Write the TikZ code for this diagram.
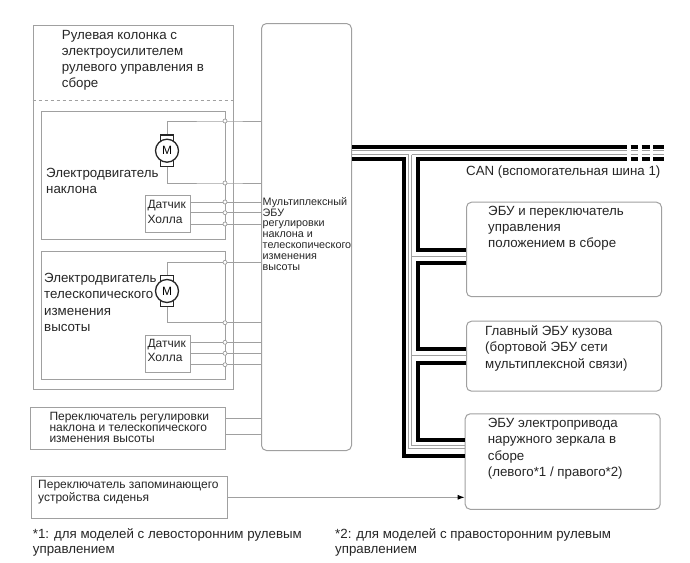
\documentclass[tikz,border=0pt]{standalone}
\usepackage{fontspec}
\setmainfont{Liberation Sans}
\usepackage{xcolor}
\usetikzlibrary{arrows.meta}
\definecolor{boxgray}{HTML}{A0A0A0}
\definecolor{txtgray}{HTML}{262626}
\tikzset{
  boxnode/.style={draw=boxgray, line width=1pt, inner sep=0pt, anchor=north west},
  ecunode/.style={boxnode, rounded corners=5pt},
  wire/.style={draw=boxgray, line width=1pt},
  busthick/.style={draw=black, line width=3.8pt},
  busthin/.style={draw=boxgray, line width=1pt},
  joint/.style={circle, draw=boxgray, fill=white, line width=0.7pt, inner sep=0pt, minimum size=4pt},
  motornode/.style={circle, draw=black!85, fill=white, line width=1.3pt, inner sep=0pt, minimum size=23pt, font=\fontsize{12}{12}\selectfont},
  brush/.style={draw=black!85, line width=1.2pt, fill=white},
  label/.style={anchor=north west, align=left, inner sep=0pt, text=txtgray},
  big/.style={label, font=\fontsize{13.3}{16.2}\selectfont},
  notetxt/.style={label, font=\fontsize{13.3}{15}\selectfont},
  halltxt/.style={label, font=\fontsize{12}{14.5}\selectfont},
  small/.style={label, font=\fontsize{12}{10.9}\selectfont},
  tiny/.style={label, font=\fontsize{10.8}{10.8}\selectfont}
}
\begin{document}
\begin{tikzpicture}[x=1pt, y=-1pt]
  \useasboundingbox (0,0) rectangle (690,562);
  \fill[white] (0,0) rectangle (690,562);

  % Column assembly
  \node[boxnode, minimum width=200.5pt, minimum height=364.5pt] (column) at (32.5,24.5) {};
  \draw[wire, dashed] (column.west |- 0,100) coordinate (dashl) -- (column.east |- dashl);
  \node[big] (columntxt) at (61.7,30) {Рулевая колонка с\\электроусилителем\\рулевого управления в\\сборе};

  % ECU
  \node[ecunode, minimum width=90pt, minimum height=427pt] (ecu) at (261,23) {};
  \node[tiny] (ecutxt) at (262.5,197) {Мультиплексный\\ЭБУ\\регулировки\\наклона и\\телескопического\\изменения\\высоты};

  % Tilt motor
  \node[boxnode, minimum width=184.5pt, minimum height=128.5pt] (tiltbox) at (40.5,110.5) {};
  \node[big] (tilttxt) at (46,168) {Электродвигатель\\наклона};
  \node[boxnode, fill=white, minimum width=45pt, minimum height=37pt] (hallA) at (144.5,195) {};
  \node[halltxt] (hallAtxt) at (147.3,200.5) {Датчик\\Холла};
  \coordinate (jA1) at (225,121);
  \coordinate (jA2) at (225,183);
  \coordinate (jA3) at (225,202);
  \coordinate (jA4) at (225,212.7);
  \coordinate (jA5) at (225,224);
  \coordinate (mA) at (167,150.7);
  \draw[wire] (ecu.west |- jA1) -- (jA1) -- (mA |- jA1) -- (mA);
  \draw[wire] (ecu.west |- jA2) -- (jA2) -- (mA |- jA2) -- (mA);
  \draw[wire] (ecu.west |- jA3) -- (hallA.east |- jA3);
  \draw[wire] (ecu.west |- jA4) -- (hallA.east |- jA4);
  \draw[wire] (ecu.west |- jA5) -- (hallA.east |- jA5);
  \draw[brush] (160.7,135) rectangle (173.3,141.7);
  \draw[brush] (160.7,160) rectangle (173.3,166.7);
  \node[motornode] (motorA) at (mA) {M};
  \foreach \j in {jA1,jA2,jA3,jA4,jA5} \node[joint] at (\j) {};

  % Telescopic motor
  \node[boxnode, minimum width=184.5pt, minimum height=128.5pt] (telebox) at (40.5,250.5) {};
  \node[big] (teletxt) at (44,273.3) {Электродвигатель\\телескопического\\изменения\\высоты};
  \node[boxnode, fill=white, minimum width=45pt, minimum height=37pt] (hallB) at (144.5,335) {};
  \node[halltxt] (hallBtxt) at (147.3,339) {Датчик\\Холла};
  \coordinate (jB1) at (225,262.3);
  \coordinate (jB2) at (225,322.7);
  \coordinate (jB3) at (225,342.3);
  \coordinate (jB4) at (225,353.3);
  \coordinate (jB5) at (225,364.7);
  \coordinate (mB) at (167,291);
  \draw[wire] (ecu.west |- jB1) -- (jB1) -- (mB |- jB1) -- (mB);
  \draw[wire] (ecu.west |- jB2) -- (jB2) -- (mB |- jB2) -- (mB);
  \draw[wire] (ecu.west |- jB3) -- (hallB.east |- jB3);
  \draw[wire] (ecu.west |- jB4) -- (hallB.east |- jB4);
  \draw[wire] (ecu.west |- jB5) -- (hallB.east |- jB5);
  \draw[brush] (160.7,275.3) rectangle (173.3,281.7);
  \draw[brush] (160.7,300.7) rectangle (173.3,306.7);
  \node[motornode] (motorB) at (mB) {M};
  \foreach \j in {jB1,jB2,jB3,jB4,jB5} \node[joint] at (\j) {};

  % Switches
  \node[boxnode, minimum width=195pt, minimum height=42.5pt] (tiltsw) at (30,406.7) {};
  \node[small] (tiltswtxt) at (49.3,412) {Переключатель регулировки\\наклона и телескопического\\изменения высоты};
  \draw[wire] (tiltsw.east |- 0,418.3) coordinate (swA) -- (ecu.west |- swA);
  \draw[wire] (tiltsw.east |- 0,434) coordinate (swB) -- (ecu.west |- swB);
  \node[boxnode, minimum width=195.5pt, minimum height=42.3pt] (seatsw) at (31,476) {};
  \node[small, font=\fontsize{12}{12.3}\selectfont] (seatswtxt) at (38,480.5) {Переключатель запоминающего\\устройства сиденья};

  % Right ECUs
  \node[ecunode, minimum width=195pt, minimum height=94.5pt] (posecu) at (466,201.7) {};
  \node[big] (posecutxt) at (488,205.7) {ЭБУ и переключатель\\управления\\положением в сборе};
  \node[ecunode, minimum width=195pt, minimum height=70pt] (bodyecu) at (466,320.7) {};
  \node[big] (bodyecutxt) at (485,325.7) {Главный ЭБУ кузова\\(бортовой ЭБУ сети\\мультиплексной связи)};
  \node[ecunode, minimum width=195pt, minimum height=95.5pt] (mirrorecu) at (464.7,413.3) {};
  \node[big] (mirrorecutxt) at (487.7,418.3) {ЭБУ электропривода\\наружного зеркала в\\сборе\\(левого*1 / правого*2)};
  \draw[wire, -{Latex[length=7pt,width=5pt,black]}] (seatsw.east |- 0,497.3) coordinate (swC) -- (mirrorecu.west |- swC);

  % CAN bus
  \coordinate (busend) at (627,0);
  \coordinate (busA) at (404.3,159);
  \coordinate (busB) at (417.7,159);
  \draw[busthick] (ecu.east |- 0,146.7) coordinate (top) -- (busend |- top);
  \draw[busthick] (ecu.east |- busA) -- (busA) -- (busA |- 0,456) coordinate (busC) -- (mirrorecu.west |- busC);
  \draw[busthick] (busend |- busB) -- (busB) -- (busB |- 0,250) coordinate (posA) -- (posecu.west |- posA);
  \draw[busthick] (posecu.west |- 0,262.7) coordinate (posB) -- (busB |- posB) -- (busB |- 0,349.3) coordinate (bodyA) -- (bodyecu.west |- bodyA);
  \draw[busthick] (bodyecu.west |- 0,362.7) coordinate (bodyB) -- (busB |- bodyB) -- (busB |- 0,440) coordinate (mirA) -- (mirrorecu.west |- mirA);
  \foreach \y in {146.7,159} {
    \draw[busthick] (630.7,\y) -- (638.3,\y);
    \draw[busthick] (641.7,\y) -- (650,\y);
    \draw[busthick] (653.3,\y) -- (664,\y);
  }
  \foreach \y in {150.7,154.5} {
    \draw[busthin] (630.7,\y) -- (638.3,\y);
    \draw[busthin] (641.7,\y) -- (650,\y);
    \draw[busthin] (653.3,\y) -- (664,\y);
  }
  \draw[busthin] (ecu.east |- 0,150.7) coordinate (thinA) -- (busend |- thinA);
  \draw[busthin] (ecu.east |- 0,154.5) coordinate (thinB) -- (408.5,154.5) -- (408.5,448) -- (mirrorecu.west |- 0,448);
  \draw[busthin] (411.7,154.5) -- (627,154.5);
  \draw[busthin] (411.7,154.5) -- (411.7,445) -- (mirrorecu.west |- 0,445);
  \draw[busthin] (411.7,256) -- (posecu.west |- 0,256);
  \draw[busthin] (411.7,355.5) -- (bodyecu.west |- 0,355.5);
  \node[big] (cantxt) at (466,166) {CAN (вспомогательная шина 1)};

  % Footnotes
  \node[notetxt] (noteA) at (32.7,528.5) {*1: для моделей с левосторонним рулевым\\управлением};
  \node[notetxt] (noteB) at (335,528.5) {*2: для моделей с правосторонним рулевым\\управлением};
\end{tikzpicture}
\end{document}
